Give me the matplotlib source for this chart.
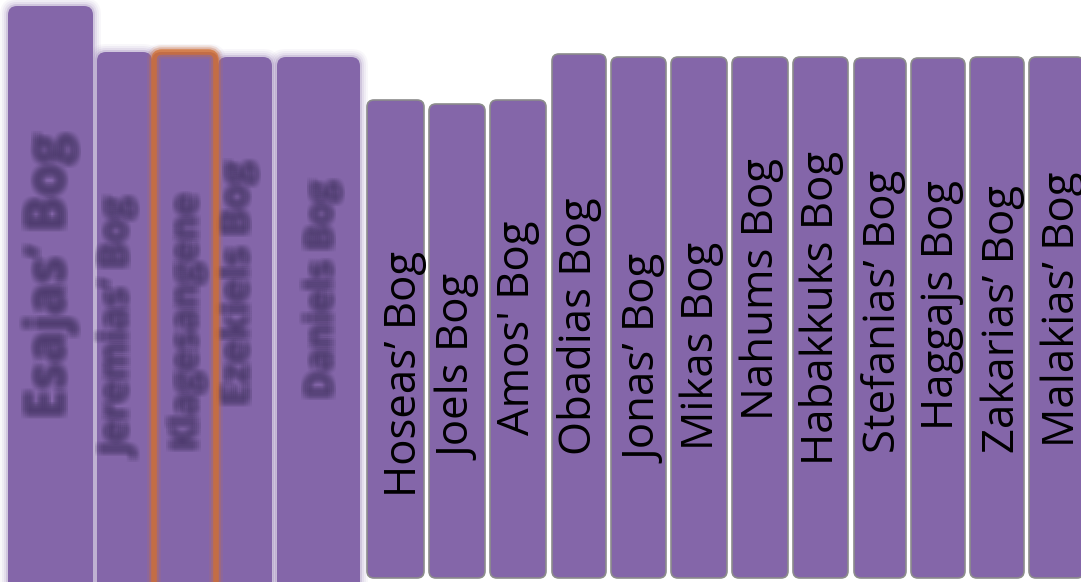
import matplotlib.pyplot as plt
from matplotlib.patches import FancyBboxPatch

# Bøgerne i rækkefølge (de fem første er slørede i billedet)
books = ["Esajas’ Bog", "Jeremias’ Bog", "Klagesangene", "Ezekiels Bog", "Daniels Bog",
         "Hoseas’ Bog", "Joels Bog", "Amos' Bog", "Obadias Bog", "Jonas’ Bog",
         "Mikas Bog", "Nahums Bog", "Habakkuks Bog", "Stefanias’ Bog", "Haggajs Bog",
         "Zakarias’ Bog", "Malakias’ Bog"]
heights = [576, 530, 530, 525, 525, 482, 478, 482, 528, 525,
           525, 525, 525, 524, 524, 525, 525]
blurred = [True, True, True, True, True] + [False] * 12

# layout (pixels)
lefts = [8, 97, 152, 218, 277, 367, 429, 490, 552, 611, 671, 732, 793, 854, 911, 970, 1029]
widths = [85, 55, 66, 54, 83, 57, 56, 56, 54, 55, 56, 56, 55, 52, 54, 54, 55]
text_y = [164, 125, 135, 177, 184, 85, 122, 147, 127, 119, 132, 162, 117, 129, 152, 129, 135]
text_dx = [0, -4, 0, -7, 4, 9, 3, 0, 0, 8, 3, 2, 1, 4, 4, 6, 6]
blur_size = [38, 28, 27, 29, 27]

purple = '#8466a9'
dark = '#4b3b6b'

fig = plt.figure(figsize=(10.81, 5.82), dpi=100)
ax = fig.add_axes([0, 0, 1, 1])
ax.set_xlim(0, 1081)
ax.set_ylim(0, 582)
ax.axis('off')

for i, name in enumerate(books):
    x0 = lefts[i]
    w = widths[i]
    h = heights[i]
    if blurred[i]:
        base = -20
        # blød glød rundt om de slørede bøger
        for p, a in [(8, 0.05), (6, 0.07), (4, 0.1), (2, 0.2)]:
            ax.add_patch(FancyBboxPatch((x0 - p, base), w + 2 * p, h - base + p,
                                        boxstyle='round,pad=0,rounding_size=%d' % (9 + p),
                                        fc=purple, ec='none', alpha=a, zorder=1))
        ax.add_patch(FancyBboxPatch((x0, base), w, h - base,
                                    boxstyle='round,pad=0,rounding_size=9',
                                    fc=purple, ec='none', zorder=2))
    else:
        base = 4
        ax.add_patch(FancyBboxPatch((x0, base), w, h - base,
                                    boxstyle='round,pad=0,rounding_size=7',
                                    fc=purple, ec='#8c8c8c', lw=1.2, zorder=3))

# orange ramme om Klagesangene (sløret)
k = books.index("Klagesangene")
for lw, a in [(10, 0.12), (7, 0.25), (4, 0.7)]:
    ax.add_patch(FancyBboxPatch((lefts[k] + 2, -20), widths[k] - 4, heights[k] + 20,
                                boxstyle='round,pad=0,rounding_size=8',
                                fc='none', ec='#d4702e', lw=lw, alpha=a, zorder=5))

for i, name in enumerate(books):
    xc = lefts[i] + widths[i] / 2 + text_dx[i]
    if blurred[i]:
        offs = [-4, -2, 0, 2, 4]
        for dx in offs:
            for dy in offs:
                ax.text(xc + dx, text_y[i] + dy, name, rotation=90, ha='center', va='bottom',
                        fontsize=blur_size[i], fontweight='bold', family='Open Sans',
                        color=dark, alpha=0.08, zorder=4)
    else:
        ax.text(xc, text_y[i], name, rotation=90, ha='center', va='bottom',
                fontsize=31.5, family='Open Sans', color='black', zorder=6)

fig.savefig('out.png', dpi=100)
